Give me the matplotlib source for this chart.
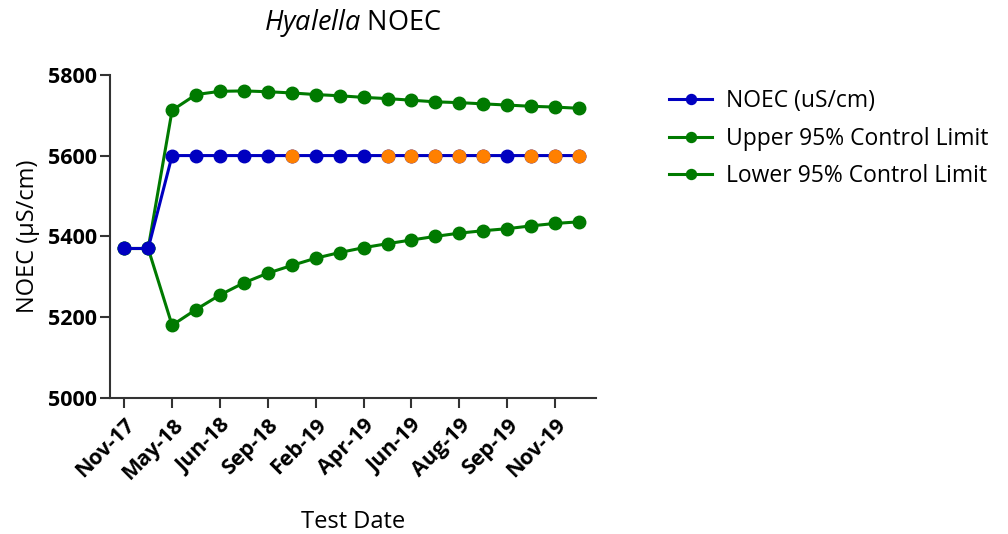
import matplotlib
matplotlib.use("Agg")
import matplotlib.pyplot as plt

plt.rcParams['font.family'] = ['Open Sans', 'DejaVu Sans']
plt.rcParams['mathtext.fontset'] = 'custom'
plt.rcParams['mathtext.it'] = 'Open Sans:italic'
plt.rcParams['mathtext.rm'] = 'Open Sans'

# data
tick_labels = ["Nov-17", "May-18", "Jun-18", "Sep-18", "Feb-19",
               "Apr-19", "Jun-19", "Aug-19", "Sep-19", "Nov-19"]
noec = [5370, 5370] + [5600] * 18
upper = [5370, 5370, 5712, 5751, 5759, 5760, 5758, 5755, 5751, 5748,
         5744, 5741, 5737, 5733, 5731, 5728, 5725, 5722, 5720, 5717]
lower = [5370, 5370, 5180, 5219, 5255, 5285, 5309, 5328, 5346, 5360,
         5372, 5382, 5391, 5400, 5408, 5414, 5419, 5426, 5432, 5436]
orange_idx = [7, 11, 12, 13, 14, 15, 17, 18, 19]

blue, green, orange = "#0000C0", "#007A00", "#FF8000"
x = list(range(len(noec)))

fig = plt.figure(figsize=(10.08, 5.34), dpi=100)
ax = fig.add_axes([0.109, 0.2547, 0.482, 0.6053])

ax.plot(x, upper, color=green, lw=2.2, marker="o", ms=9, label="Upper 95% Control Limit", zorder=2)
ax.plot(x, lower, color=green, lw=2.2, marker="o", ms=9, label="Lower 95% Control Limit", zorder=2)
ax.plot(x, noec, color=blue, lw=2.2, marker="o", ms=9, label="NOEC (uS/cm)", zorder=3)
ax.plot([x[i] for i in orange_idx], [noec[i] for i in orange_idx], ls="none",
        marker="o", ms=9, color=orange, zorder=4)

ax.set_xlim(-0.6, 19.7)
ax.set_ylim(5000, 5800)
ax.set_yticks([5000, 5200, 5400, 5600, 5800])
ax.set_xticks(x[::2])
ax.set_xticklabels(tick_labels, rotation=45, ha="right", rotation_mode="anchor")
for lab in ax.get_xticklabels() + ax.get_yticklabels():
    lab.set_fontweight("bold")
    lab.set_fontsize(15.5)
ax.tick_params(axis="both", length=7, width=1.5, color="#333333", pad=2)
ax.tick_params(axis="x", pad=5)

for s in ["top", "right"]:
    ax.spines[s].set_visible(False)
for s in ["left", "bottom"]:
    ax.spines[s].set_linewidth(1.5)
    ax.spines[s].set_color("#333333")

ax.set_xlabel("Test Date", fontsize=17, labelpad=19)
ax.set_ylabel("NOEC (µS/cm)", fontsize=17, labelpad=6)
ax.set_title(r"$\it{Hyalella}$ NOEC", fontsize=19.5, pad=32)

handles, labels = ax.get_legend_handles_labels()
order = [2, 0, 1]
fig.legend([handles[i] for i in order], [labels[i] for i in order],
           loc="upper left", bbox_to_anchor=(0.643, 0.872), frameon=False,
           fontsize=16.5, handlelength=1.9, handletextpad=0.6,
           labelspacing=0.6, markerscale=0.8)

fig.savefig("out.png", dpi=100)
